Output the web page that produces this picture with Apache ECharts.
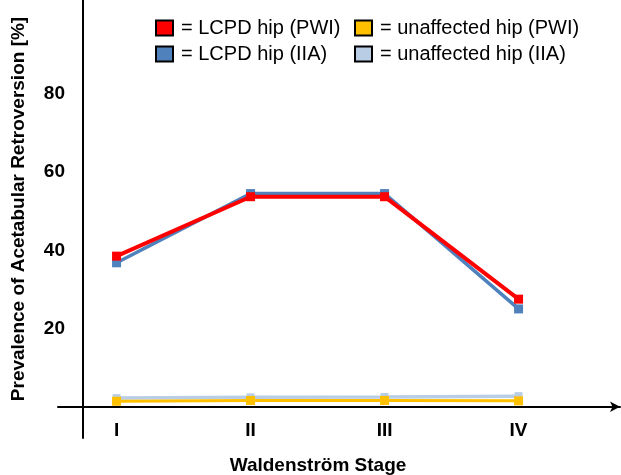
<!DOCTYPE html>
<html>
<head>
<meta charset="utf-8">
<script src="https://cdn.jsdelivr.net/npm/echarts@6/dist/echarts.min.js"></script>
<style>html,body{margin:0;padding:0;background:#fff}#c{width:621px;height:475px}</style>
</head>
<body>
<div id="c"></div>
<script>
var stages = ['I', 'II', 'III', 'IV'];
var stageX = [1, 2, 3, 4];
var lcpdPWI = [38.5, 53.7, 53.7, 27.5];
var lcpdIIA = [36.8, 54.5, 54.5, 25.0];
var unaffPWI = [1.4, 1.6, 1.6, 1.5];
var unaffIIA = [2.2, 2.4, 2.5, 2.7];
var yTicks = [20, 40, 60, 80];

function pts(vals) { return vals.map(function (v, i) { return [stageX[i], v]; }); }

var FONT = 'Liberation Sans, Arial, sans-serif';
var chart = echarts.init(document.getElementById('c'));

function ser(name, color, vals, z, lw, ss) {
  return {
    name: name, type: 'line', data: pts(vals), z: z,
    symbol: 'rect', symbolSize: ss, showSymbol: true,
    lineStyle: { color: color, width: lw },
    itemStyle: { color: color },
    emphasis: { disabled: true }, animation: false
  };
}

var legendCommon = {
  orient: 'vertical', icon: 'rect', itemWidth: 17, itemHeight: 15, itemGap: 6, padding: 0,
  itemStyle: { borderColor: '#000', borderWidth: 2 },
  textStyle: { fontFamily: FONT, fontSize: 20, color: '#000', padding: [0, 0, 0, 3] },
  selectedMode: false
};

chart.setOption({
  backgroundColor: '#fff',
  animation: false,
  legend: [
    Object.assign({}, legendCommon, { left: 155, top: 18, data: ['= LCPD hip (PWI)', '= LCPD hip (IIA)'] }),
    Object.assign({}, legendCommon, { left: 354, top: 18, data: ['= unaffected hip (PWI)', '= unaffected hip (IIA)'] })
  ],
  grid: { left: 58, right: 1, top: 0, bottom: 37, containLabel: false, outerBoundsMode: 'none' },
  xAxis: {
    type: 'value', min: 0.563, max: 4.757,
    name: 'Waldenström Stage', nameLocation: 'middle', nameGap: 18,
    nameTextStyle: { fontFamily: FONT, fontSize: 19, fontWeight: 'bold', color: '#000', padding: [0, 42, 0, 0] },
    axisLine: { onZero: true, lineStyle: { color: '#000', width: 2 }, symbol: ['none', 'arrow'], symbolSize: [8, 10] },
    axisTick: { show: false },
    splitLine: { show: false },
    axisLabel: {
      customValues: stageX, margin: -17,
      fontFamily: FONT, fontSize: 19, fontWeight: 'bold', color: '#000',
      formatter: function (v) { var i = stageX.indexOf(v); return i >= 0 ? stages[i] : ''; }
    }
  },
  yAxis: {
    type: 'value', min: -8, max: 104, offset: -25,
    name: 'Prevalence of Acetabular Retroversion [%]', nameLocation: 'middle', nameGap: 55,
    nameTextStyle: { fontFamily: FONT, fontSize: 19, fontWeight: 'bold', color: '#000', padding: [0, 0, 0, 20] },
    axisLine: { show: true, onZero: false, lineStyle: { color: '#000', width: 2 } },
    axisTick: { show: false },
    splitLine: { show: false },
    axisLabel: {
      customValues: yTicks, margin: 18,
      fontFamily: FONT, fontSize: 19, fontWeight: 'bold', color: '#000',
      formatter: function (v) { return yTicks.indexOf(v) >= 0 ? String(v) : ''; }
    }
  },
  series: [
    ser('= unaffected hip (IIA)', '#b9cde5', unaffIIA, 2, 3.5, 8),
    ser('= unaffected hip (PWI)', '#ffc000', unaffPWI, 3, 3, 9),
    ser('= LCPD hip (IIA)', '#4f81bd', lcpdIIA, 4, 3.5, 9),
    ser('= LCPD hip (PWI)', '#ff0000', lcpdPWI, 5, 4, 9)
  ]
});
</script>
</body>
</html>
